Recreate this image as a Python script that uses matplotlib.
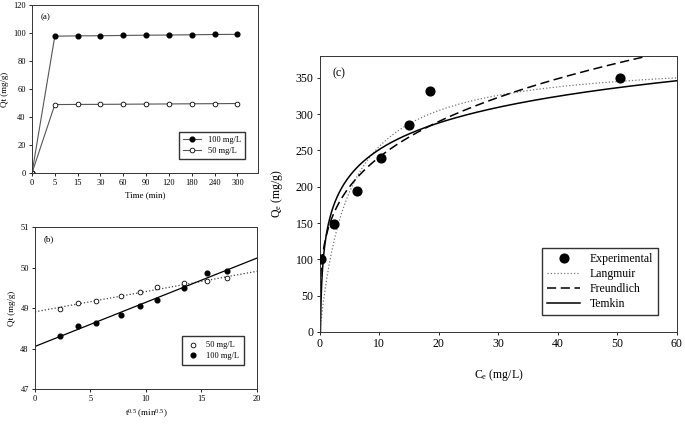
import numpy as np
import matplotlib
matplotlib.use("Agg")
import matplotlib.pyplot as plt

plt.rcParams.update({
    "font.family": ["Liberation Serif", "DejaVu Serif"],
    "mathtext.fontset": "custom",
    "mathtext.rm": "Liberation Serif",
    "mathtext.it": "Liberation Serif",
    "xtick.direction": "out",
    "ytick.direction": "out",
})

# (a) kinetics, categorical time axis
time_labels = ["0", "5", "15", "30", "60", "90", "120", "180", "240", "300"]
qt_100 = [0, 97.8, 98.0, 98.1, 98.3, 98.5, 98.6, 98.8, 99.0, 99.1]
qt_50 = [0, 48.9, 49.0, 49.05, 49.15, 49.25, 49.35, 49.45, 49.55, 49.65]

# (b) intraparticle diffusion
t_half = [2.24, 3.87, 5.48, 7.75, 9.49, 10.95, 13.42, 15.49, 17.32]
qb_50 = [48.98, 49.12, 49.17, 49.29, 49.39, 49.51, 49.61, 49.67, 49.73]
qb_100 = [48.30, 48.56, 48.63, 48.84, 49.05, 49.20, 49.50, 49.86, 49.91]

# (c) isotherm
ce = [0.2, 2.3, 6.2, 10.3, 15.0, 18.5, 50.5]
qe = [100, 148, 194, 240, 285, 332, 350]
langmuir_qm, langmuir_k = 378.0, 0.209
freundlich_kf, freundlich_inv_n = 130.3, 0.267
temkin_b, temkin_a = 52.8, 11.7

fig = plt.figure(figsize=(6.85, 4.25), dpi=100)
tick_kw = dict(length=2.5, width=0.6, pad=2)

# ---------------- (a)
ax1 = fig.add_axes([0.0467, 0.593, 0.330, 0.395])
xi = np.arange(len(time_labels))
ax1.plot(xi, qt_100, "-o", color="#555555", lw=0.8, ms=3.4, mfc="black", mec="black",
         label="100 mg/L")
ax1.plot(xi, qt_50, "-o", color="#555555", lw=0.8, ms=3.4, mfc="white", mec="black",
         mew=0.6, label="50 mg/L")
ax1.set_xlim(0, 9.9)
ax1.set_ylim(0, 120)
ax1.set_xticks(xi)
ax1.set_xticklabels(time_labels)
ax1.set_yticks(np.arange(0, 121, 20))
ax1.tick_params(labelsize=6, **tick_kw)
ax1.set_xlabel("Time (min)", fontsize=6.5, labelpad=3)
ax1.set_ylabel("Qt (mg/g)", fontsize=6.5, labelpad=3)
ax1.text(0.04, 0.95, "(a)", transform=ax1.transAxes, fontsize=6.5, va="top")
ax1.legend(loc="lower right", bbox_to_anchor=(0.96, 0.06), fontsize=6, frameon=True,
           fancybox=False, edgecolor="black", handlelength=2.2, borderpad=0.45,
           labelspacing=0.35)

# ---------------- (b)
ax2 = fig.add_axes([0.0511, 0.0847, 0.324, 0.381])
xl = np.array([0, 20])
p50 = np.polyfit(t_half, qb_50, 1)
p100 = np.polyfit(t_half, qb_100, 1)
ax2.plot(xl, np.polyval(p50, xl), ":", color="#444444", lw=0.9)
ax2.plot(xl, np.polyval(p100, xl), "-", color="black", lw=0.9)
ax2.plot(t_half, qb_50, "o", ms=3.4, mfc="white", mec="black", mew=0.6, label="50 mg/L")
ax2.plot(t_half, qb_100, "o", ms=3.4, mfc="black", mec="black", label="100 mg/L")
ax2.set_xlim(0, 20)
ax2.set_ylim(47, 51)
ax2.set_xticks([0, 5, 10, 15, 20])
ax2.set_yticks([47, 48, 49, 50, 51])
ax2.tick_params(labelsize=6, **tick_kw)
ax2.set_xlabel(r"t$^{0.5}$ (min$^{0.5}$)", fontsize=6.5, labelpad=3)
ax2.set_ylabel("Qt (mg/g)", fontsize=6.5, labelpad=3)
ax2.text(0.04, 0.95, "(b)", transform=ax2.transAxes, fontsize=6.5, va="top")
ax2.legend(loc="lower right", bbox_to_anchor=(0.96, 0.12), fontsize=6, frameon=True,
           fancybox=False, edgecolor="black", handlelength=1.5, borderpad=0.6,
           labelspacing=0.35)

# ---------------- (c)
ax3 = fig.add_axes([0.467, 0.219, 0.521, 0.649])
cc = np.linspace(0.01, 60, 600)
q_lang = langmuir_qm * langmuir_k * cc / (1 + langmuir_k * cc)
q_freu = freundlich_kf * cc ** freundlich_inv_n
q_temk = temkin_b * np.log(temkin_a * cc)
ax3.plot(ce, qe, "o", color="black", ms=6.3, label="Experimental", zorder=3)
ax3.plot(cc, q_lang, ":", color="#777777", lw=0.9, label="Langmuir")
ax3.plot(cc, q_freu, "--", color="black", lw=1.1, dashes=(6, 3), label="Freundlich")
ax3.plot(cc, q_temk, "-", color="black", lw=1.1, label="Temkin")
ax3.set_xlim(0, 60)
ax3.set_ylim(0, 380)
ax3.set_xticks(np.arange(0, 61, 10))
ax3.set_yticks(np.arange(0, 351, 50))
ax3.tick_params(labelsize=8.5, **tick_kw)
ax3.set_xlabel(r"C$_\mathregular{e}$ (mg/L)", fontsize=8.5, labelpad=12)
ax3.set_ylabel(r"Q$_\mathregular{e}$ (mg/g)", fontsize=8.5, labelpad=8)
ax3.text(0.035, 0.96, "(c)", transform=ax3.transAxes, fontsize=8.5, va="top")
ax3.legend(loc="lower right", bbox_to_anchor=(0.965, 0.04), fontsize=8.5, frameon=True,
           fancybox=False, edgecolor="black", handlelength=2.8, borderpad=0.45,
           labelspacing=0.25)

for ax in (ax1, ax2, ax3):
    for s in ax.spines.values():
        s.set_linewidth(0.7)
        s.set_color("#333333")
    ax.tick_params(top=False, right=False)

fig.savefig("out.png", dpi=100)
